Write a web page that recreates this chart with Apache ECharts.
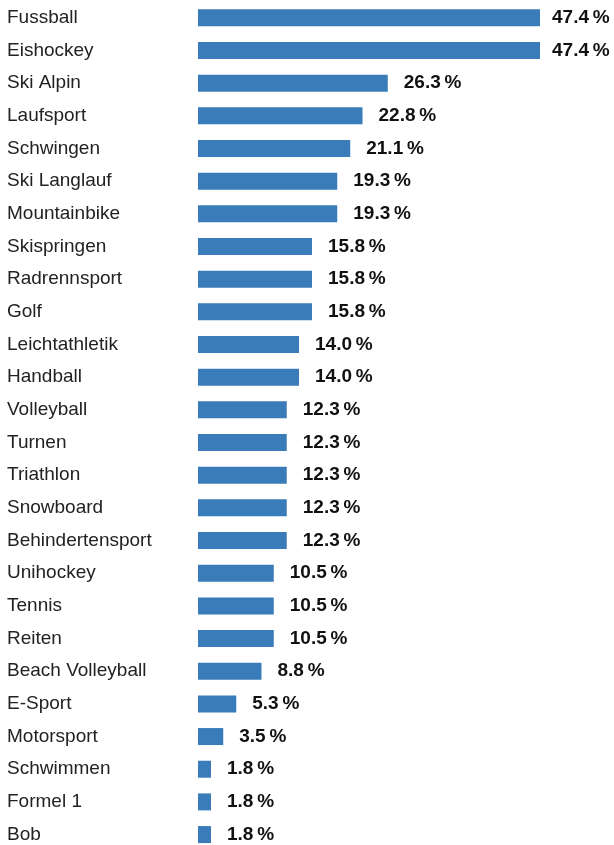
<!DOCTYPE html>
<html><head><meta charset="utf-8">
<script src="https://cdn.jsdelivr.net/npm/echarts@6/dist/echarts.min.js"></script>
<style>html,body{margin:0;padding:0;background:#fff}#c{width:614px;height:845px}</style>
</head><body><div id="c"></div>
<script>
const categories = ["Fussball","Eishockey","Ski Alpin","Laufsport","Schwingen","Ski Langlauf","Mountainbike","Skispringen","Radrennsport","Golf","Leichtathletik","Handball","Volleyball","Turnen","Triathlon","Snowboard","Behindertensport","Unihockey","Tennis","Reiten","Beach Volleyball","E-Sport","Motorsport","Schwimmen","Formel 1","Bob"];
const values = [47.4,47.4,26.3,22.8,21.1,19.3,19.3,15.8,15.8,15.8,14.0,14.0,12.3,12.3,12.3,12.3,12.3,10.5,10.5,10.5,8.8,5.3,3.5,1.8,1.8,1.8];

const maxV = Math.max(...values);
const seriesData = values.map(v => v === maxV ? {value:v, label:{distance:12}} : v);

const chart = echarts.init(document.getElementById('c'), null, {renderer:'canvas'});
chart.setOption({
  animation:false,
  grid:{left:198, top:1.5, width:342, height:849.4, containLabel:false, outerBoundsMode:'none'},
  xAxis:{type:'value', min:0, max:47.4, show:false},
  yAxis:{type:'category', inverse:true, data:categories,
    axisLine:{show:false}, axisTick:{show:false}, splitLine:{show:false},
    axisLabel:{align:'left', margin:191, padding:[3,0,0,0], fontFamily:'Liberation Sans, Arial, sans-serif', fontSize:19, color:'#222'}},
  series:[{type:'bar', data:seriesData, barWidth:17, itemStyle:{color:'#3a7cb9'},
    label:{show:true, position:'right', distance:16, padding:[3,0,0,0], fontFamily:'Liberation Sans, Arial, sans-serif', fontSize:19, fontWeight:'bold', color:'#111',
      formatter:p=>p.value.toFixed(1)+'\u2009%'}}]
});
</script></body></html>
